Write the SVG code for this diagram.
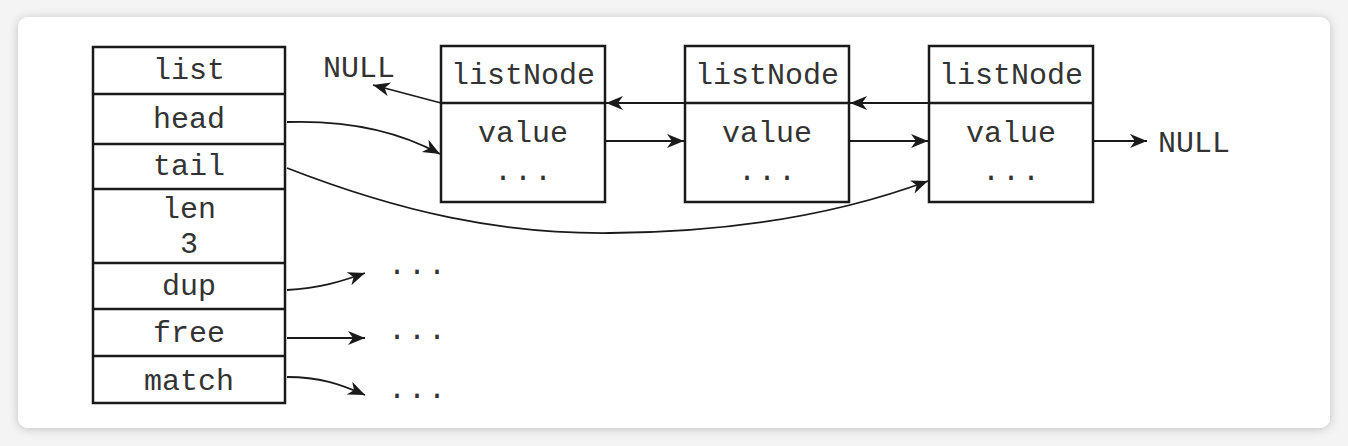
<svg xmlns="http://www.w3.org/2000/svg" width="1348" height="446" viewBox="0 0 1348 446">
<defs>
<filter id="sh" x="-5%" y="-10%" width="110%" height="120%">
<feDropShadow dx="0" dy="1" stdDeviation="5" flood-color="#000" flood-opacity="0.22"/>
</filter>
<marker id="ah" markerUnits="userSpaceOnUse" markerWidth="20" markerHeight="16" refX="17" refY="7" orient="auto">
<path d="M0,0 L17,7 L0,14 L5,7 Z" fill="#1a1a1a"/>
</marker>
<style>
.box{fill:#fff;stroke:#1a1a1a;stroke-width:2.5}
.ln{fill:none;stroke:#1a1a1a;stroke-width:2.5}
.t{font-family:"Liberation Mono","Courier New",monospace;font-size:30px;fill:#333;text-anchor:middle}
.d{font-family:"Liberation Mono","Courier New",monospace;font-size:30px;fill:#333;letter-spacing:2px}
.c{fill:none;stroke:#1a1a1a;stroke-width:1.8;marker-end:url(#ah)}
</style>
</defs>
<rect x="0" y="0" width="1348" height="446" fill="#f4f4f4"/>
<rect x="18" y="17" width="1312" height="411" rx="10" fill="#fff" filter="url(#sh)"/>

<g id="list">
<rect class="box" x="93" y="47" width="192" height="356"/>
<path class="ln" d="M93 94H285M93 144H285M93 189H285M93 263H285M93 309H285M93 356H285"/>
<text class="t" x="189" y="79">list</text>
<text class="t" x="189" y="128">head</text>
<text class="t" x="189" y="175">tail</text>
<text class="t" x="189" y="218">len</text>
<text class="t" x="189" y="253">3</text>
<text class="t" x="189" y="295">dup</text>
<text class="t" x="189" y="342">free</text>
<text class="t" x="189" y="390">match</text>
</g>

<g id="node1">
<rect class="box" x="441" y="46" width="164" height="156"/>
<path class="ln" d="M441 103H605"/>
<text class="t" x="523" y="84">listNode</text>
<text class="t" x="523" y="142">value</text>
<text class="d" x="494" y="180">...</text>
</g>
<g id="node2">
<rect class="box" x="685" y="46" width="164" height="156"/>
<path class="ln" d="M685 103H849"/>
<text class="t" x="767" y="84">listNode</text>
<text class="t" x="767" y="142">value</text>
<text class="d" x="738" y="180">...</text>
</g>
<g id="node3">
<rect class="box" x="929" y="46" width="164" height="156"/>
<path class="ln" d="M929 103H1093"/>
<text class="t" x="1011" y="84">listNode</text>
<text class="t" x="1011" y="142">value</text>
<text class="d" x="982" y="180">...</text>
</g>

<g id="labels">
<text class="t" x="359" y="77">NULL</text>
<text class="t" x="1194" y="152">NULL</text>
<text class="d" x="388" y="274">...</text>
<text class="d" x="388" y="339">...</text>
<text class="d" x="388" y="398">...</text>
</g>

<g id="connectors">
<path class="c" d="M441 103L373 85"/>
<path class="c" d="M685 103H606"/>
<path class="c" d="M929 103H850"/>
<path class="c" d="M605 141H684"/>
<path class="c" d="M849 141H928"/>
<path class="c" d="M1093 141H1147"/>
<path class="c" d="M287 122C350 120 400 132 440 154"/>
<path class="c" d="M287 168C400 212 500 234 610 233C750 232 850 210 928 181"/>
<path class="c" d="M287 290C320 288 340 282 365 273"/>
<path class="c" d="M287 338H365"/>
<path class="c" d="M287 377C320 377 340 384 365 395"/>
</g>
</svg>
